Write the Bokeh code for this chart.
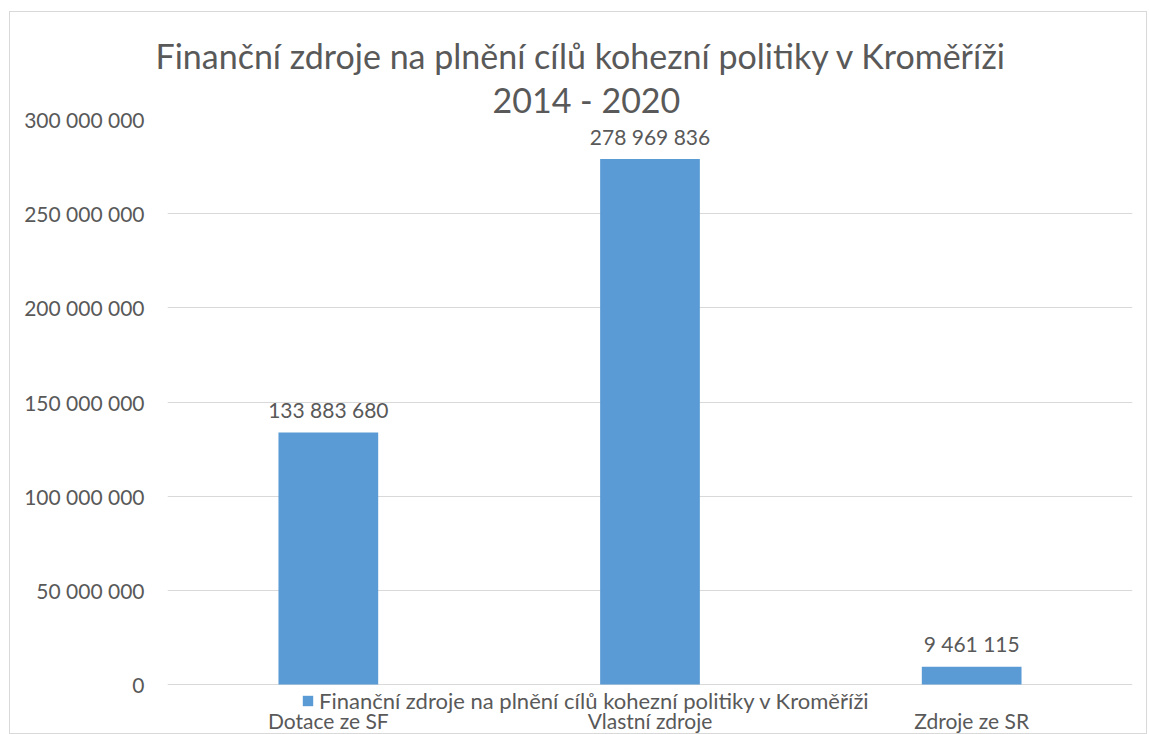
from bokeh.plotting import figure
from bokeh.models import FactorRange, FixedTicker, Title, ColumnDataSource, Legend, LegendItem
from bokeh.core.properties import value
from bokeh.embed import file_html
from bokeh.resources import INLINE

categories = ["Dotace ze SF", "Vlastní zdroje", "Zdroje ze SR"]
values = [133883680, 278969836, 9461115]
series_name = "Finanční zdroje na plnění cílů kohezní politiky v Kroměříži"
title_line1 = "Finanční zdroje na plnění cílů kohezní politiky v Kroměříži"
title_line2 = "2014 - 2020"
y_ticks = [0, 50000000, 100000000, 150000000, 200000000, 250000000, 300000000]
y_tick_labels = ["0", "50 000 000", "100 000 000", "150 000 000", "200 000 000", "250 000 000", "300 000 000"]
value_labels = [f"{v:,}".replace(",", " ") for v in values]

FONT = "Lato"
TXT = "#595959"
GRID = "#d9d9d9"
BAR = "#5b9bd5"

src = ColumnDataSource(dict(cat=categories, val=values, lab=value_labels))

# y range extends a little below zero so the legend can sit under the zero line inside the frame
p = figure(x_range=FactorRange(*categories), y_range=(-16400000, 300000000),
           width=1138, height=723, output_backend="svg", toolbar_location=None,
           min_border_left=157, min_border_right=16, min_border_top=107, min_border_bottom=0)

r = p.vbar(x="cat", top="val", bottom=0, width=0.31, source=src, color=BAR, line_color=None)

p.text(x="cat", y="val", text="lab", source=src, text_align="center", text_baseline="middle",
       y_offset=-23, text_color=TXT, text_font=value(FONT), text_font_size="21px")

p.yaxis.ticker = FixedTicker(ticks=y_ticks)
p.yaxis.major_label_overrides = {t: l for t, l in zip(y_ticks, y_tick_labels)}
p.yaxis.axis_line_color = None
p.yaxis.major_tick_line_color = None
p.yaxis.minor_tick_line_color = None
p.yaxis.major_tick_out = 0
p.yaxis.major_tick_in = 0
p.yaxis.major_label_standoff = 23
p.yaxis.major_label_text_font = FONT
p.yaxis.major_label_text_font_size = "21px"
p.yaxis.major_label_text_color = TXT

p.xaxis.axis_line_color = None
p.xaxis.major_tick_line_color = None
p.xaxis.minor_tick_line_color = None
p.xaxis.major_tick_out = 0
p.xaxis.major_tick_in = 0
p.xaxis.major_label_standoff = -8
p.xaxis.major_label_text_font = FONT
p.xaxis.major_label_text_font_size = "21px"
p.xaxis.major_label_text_color = TXT

p.xgrid.grid_line_color = None
p.ygrid.grid_line_color = GRID
p.ygrid.ticker = FixedTicker(ticks=y_ticks)
p.outline_line_color = None

legend = Legend(items=[LegendItem(label=series_name, renderers=[r])], location=(134, 1),
                margin=0, padding=0, spacing=0, border_line_color=None, background_fill_alpha=0,
                glyph_width=13, glyph_height=13, label_standoff=5, label_height=13,
                label_text_font=FONT, label_text_font_size="22px", label_text_color=TXT)
p.add_layout(legend, "center")

p.add_layout(Title(text=title_line2, align="left", offset=325, text_font=FONT,
                   text_font_size="34px", text_font_style="normal", text_color=TXT, standoff=0), "above")
p.add_layout(Title(text=title_line1, align="left", offset=-12, text_font=FONT,
                   text_font_size="34px", text_font_style="normal", text_color=TXT, standoff=2), "above")

p.styles = {"border": "1px solid #d9d9d9", "margin-left": "9px", "margin-top": "11px"}

open("out.html", "w").write(file_html(p, INLINE))
